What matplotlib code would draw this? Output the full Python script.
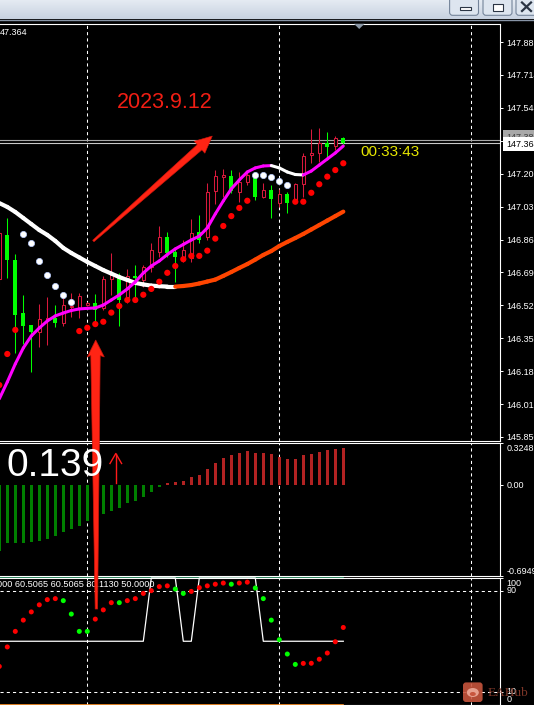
import numpy as np
import matplotlib
matplotlib.use('Agg')
import matplotlib.pyplot as plt
from matplotlib.patches import Polygon, Rectangle, FancyBboxPatch, Ellipse
from matplotlib.colors import LinearSegmentedColormap

plt.rcParams['font.family'] = ['Liberation Sans', 'DejaVu Sans']

W, H = 534, 705

# ---- H1 bars, left to right (bar 0 is cut by the left edge) ----
opens = [146.663, 146.890, 146.761, 146.488, 146.426, 146.390, 146.452, 146.462, 146.437, 146.519,
         146.514, 146.529, 146.540, 146.514, 146.663, 146.668, 146.570, 146.679, 146.658, 146.725,
         146.802, 146.879, 146.802, 146.771, 146.771, 146.905, 146.879, 147.116, 147.188, 147.193,
         147.111, 147.162, 147.198, 147.085, 147.121, 147.055, 147.101, 147.070, 147.152, 147.301,
         147.312, 147.363, 147.348, 147.389]
highs = [146.957, 146.977, 146.792, 146.581, 146.426, 146.534, 146.570, 146.529, 146.570, 146.591,
         146.591, 146.545, 146.586, 146.679, 146.797, 146.694, 146.715, 146.735, 146.735, 146.849,
         146.936, 146.905, 146.828, 146.864, 146.972, 146.993, 147.157, 147.224, 147.229, 147.224,
         147.214, 147.214, 147.214, 147.157, 147.147, 147.127, 147.111, 147.157, 147.312, 147.435,
         147.440, 147.420, 147.399, 147.394]
lows = [146.632, 146.668, 146.282, 146.329, 146.184, 146.313, 146.323, 146.416, 146.421, 146.468,
        146.462, 146.524, 146.442, 146.504, 146.581, 146.421, 146.540, 146.555, 146.622, 146.699,
        146.776, 146.776, 146.648, 146.751, 146.751, 146.849, 146.864, 147.049, 147.085, 147.106,
        147.060, 147.147, 147.070, 147.080, 146.977, 147.034, 147.003, 147.055, 147.085, 147.260,
        147.265, 147.286, 147.327, 147.358]
closes = [146.900, 146.761, 146.478, 146.421, 146.390, 146.457, 146.462, 146.437, 146.529, 146.524,
          146.576, 146.540, 146.504, 146.663, 146.684, 146.555, 146.679, 146.668, 146.725, 146.812,
          146.879, 146.797, 146.776, 146.812, 146.900, 146.864, 147.111, 147.193, 147.198, 147.116,
          147.162, 147.198, 147.085, 147.121, 147.075, 147.101, 147.055, 147.152, 147.296, 147.312,
          147.363, 147.343, 147.389, 147.364]

# parabolic sar
psar = [146.117, 146.277, 146.401, 146.895, 146.850, 146.757, 146.684, 146.627, 146.581, 146.545,
        146.395, 146.412, 146.431, 146.443, 146.490, 146.524, 146.555, 146.555, 146.582, 146.612,
        146.649, 146.695, 146.730, 146.765, 146.782, 146.782, 146.809, 146.871, 146.936, 146.987,
        147.029, 147.066, 147.201, 147.201, 147.190, 147.168, 147.147, 147.061, 147.061, 147.107,
        147.151, 147.190, 147.224, 147.259]

# slow ma (white falling / orange rising) and fast ma (magenta rising / white falling)
slow_ma = [147.054, 147.034, 147.008, 146.977, 146.946, 146.915, 146.890, 146.859, 146.823, 146.797,
           146.774, 146.751, 146.730, 146.709, 146.691, 146.673, 146.658, 146.643, 146.635, 146.629,
           146.626, 146.624, 146.624, 146.627, 146.632, 146.640, 146.650, 146.660, 146.679, 146.699,
           146.720, 146.740, 146.763, 146.787, 146.807, 146.833, 146.854, 146.874, 146.895, 146.918,
           146.941, 146.964, 146.987, 147.010]
fast_ma = [146.046, 146.133, 146.226, 146.308, 146.370, 146.411, 146.447, 146.473, 146.488, 146.501,
           146.509, 146.512, 146.514, 146.529, 146.555, 146.581, 146.612, 146.648, 146.694, 146.730,
           146.756, 146.789, 146.818, 146.841, 146.864, 146.884, 146.926, 146.998, 147.065, 147.127,
           147.173, 147.214, 147.235, 147.245, 147.247, 147.235, 147.214, 147.201, 147.199, 147.219,
           147.250, 147.281, 147.312, 147.348]

# macd histogram
macd = [-0.500, -0.440, -0.440, -0.440, -0.434, -0.426, -0.408, -0.389, -0.360, -0.337,
        -0.308, -0.276, -0.245, -0.218, -0.197, -0.171, -0.139, -0.118, -0.092, -0.053,
        -0.011, 0.018, 0.024, 0.034, 0.066, 0.082, 0.126, 0.174, 0.213, 0.231,
        0.245, 0.260, 0.250, 0.245, 0.239, 0.221, 0.205, 0.205, 0.229, 0.242,
        0.258, 0.268, 0.276, 0.284]

# bottom window: step line and dots
stoch_main = [50, 50, 50, 50, 50, 50, 50, 50, 50, 50, 50, 50, 50, 50, 50, 50, 50, 50, 50, 100,
              100, 100, 100, 50, 50, 100, 100, 100, 100, 100, 100, 100, 100, 50, 50, 50, 50, 50, 50, 50,
              50, 50, 50, 50]
stoch_sig = [30.1, 45.5, 57.8, 66.7, 73.2, 78.8, 82.9, 83.7, 82.1, 71.5,
             57.8, 57.8, 67.5, 74.8, 80.5, 80.5, 82.1, 83.7, 87.8, 90.0,
             93.2, 93.8, 91.3, 87.8, 89.4, 92.4, 93.8, 95.1, 96.0, 95.1,
             96.0, 96.7, 92.1, 83.7, 66.7, 51.2, 39.9, 31.7, 32.5, 32.6,
             35.8, 40.7, 49.6, 60.9]
stoch_top, stoch_bottom = 100, 0
stoch_levels = [90, 10]
stoch_header = '000 60.5065 60.5065 80.1130 50.0000'

price_ticks = [147.883, 147.714, 147.544, 147.375, 147.205, 147.036, 146.866,
               146.697, 146.528, 146.358, 146.189, 146.019, 145.850]
price_lim = (145.829, 147.977)
bid, ask = 147.364, 147.380
macd_lim = (-0.6949, 0.3248)
macd_ticks = [0.3248, 0.0, -0.6949]
macd_labels = ['0.3248', '0.00', '-0.6949']
stoch_ticks = [100, 90, 10, 0]
stoch_labels = ['100', '90', '10', '0']
grid_bars = [11, 35, 59]
time_ticks = [8, 16, 24, 32, 40, 48, 56]

BULL = '#d8193c'
BEAR = '#00ff00'

fig = plt.figure(figsize=(W / 100, H / 100), dpi=100, facecolor='black')


def panel(top, bottom):
    ax = fig.add_axes([0, 1 - bottom / H, 500.3 / W, (bottom - top) / H])
    ax.set_facecolor('black')
    for s in ('top', 'bottom', 'right'):
        ax.spines[s].set_color('white')
        ax.spines[s].set_linewidth(0.8)
    ax.spines['left'].set_visible(False)
    ax.set_xlim(0.0875, 62.625)
    ax.yaxis.tick_right()
    ax.tick_params(axis='y', colors='white', length=2.2, width=0.7, pad=2.2, labelsize=6.5)
    ax.tick_params(axis='x', bottom=False, labelbottom=False)
    for g in grid_bars:
        ax.axvline(g, color='white', lw=0.75, ls=(0, (3, 3)), zorder=1)
    return ax


def side_labels(ax, ticks, labels, aligns):
    ax.set_yticks(ticks, [''] * len(ticks))
    for v, lab, (va, dy) in zip(ticks, labels, aligns):
        ax.annotate(lab, xy=(1, v), xycoords=('axes fraction', 'data'), xytext=(4.4, dy),
                    textcoords='offset points', va=va, ha='left', color='white',
                    fontsize=6.5, annotation_clip=False)


def two_tone(ax, y, up_col, dn_col, lw, z):
    for k in range(len(y) - 1):
        col = up_col if y[k + 1] > y[k] else dn_col
        ax.plot([k, k + 1], [y[k], y[k + 1]], color=col, lw=lw,
                solid_capstyle='round', zorder=z)


# ---------------- main price window ----------------
ax = panel(23.8, 441)
ax.set_ylim(*price_lim)
ax.set_yticks(price_ticks, ['%.3f' % t for t in price_ticks])

ax.axhline(ask, color='#a8a8a8', lw=0.8, zorder=1)
ax.axhline(bid, color='#c8c8c8', lw=0.8, zorder=1)

x = np.arange(len(opens))
o, hi, lo, c = map(np.array, (opens, highs, lows, closes))
up = c >= o
ax.vlines(x[up], lo[up], hi[up], color=BULL, lw=0.75, zorder=2)
ax.vlines(x[~up], lo[~up], hi[~up], color=BEAR, lw=0.75, zorder=2)
body_lo = np.minimum(o, c)
body_h = np.maximum(np.abs(c - o), 0.003)
ax.bar(x[up], body_h[up], 0.44, bottom=body_lo[up], facecolor='black',
       edgecolor=BULL, lw=0.75, zorder=3)
ax.bar(x[~up], body_h[~up], 0.54, bottom=body_lo[~up], color=BEAR, lw=0, zorder=3)

two_tone(ax, slow_ma, '#ff4500', 'white', 3.0, 4)
two_tone(ax, fast_ma, '#ff00ff', 'white', 2.2, 5)

ps = np.array(psar)
above = ps > c
ax.scatter(x[above], ps[above], s=20, c='white', edgecolors='#b8ccff', linewidths=0.5, zorder=6)
ax.scatter(x[~above], ps[~above], s=20, c='#ff0000', edgecolors='none', zorder=6)

ax.annotate('%.3f' % ask, xy=(1, ask), xycoords=('axes fraction', 'data'), xytext=(4.2, 1.5),
            textcoords='offset points', va='center', ha='left', fontsize=6.5, color='#404040',
            bbox=dict(boxstyle='square,pad=0.3', fc='#a8a8a8', ec='none'), annotation_clip=False)
ax.annotate('%.3f' % bid, xy=(1, bid), xycoords=('axes fraction', 'data'), xytext=(4.2, -1),
            textcoords='offset points', va='center', ha='left', fontsize=6.5, color='black',
            bbox=dict(boxstyle='square,pad=0.3', fc='white', ec='none'), annotation_clip=False)

# ---------------- macd window ----------------
ax2 = panel(443, 576)
ax2.set_ylim(*macd_lim)
mv = np.array(macd)
ax2.bar(x, mv, 0.42, color=np.where(mv > 0, '#b22222', '#008000'), lw=0, zorder=2)
side_labels(ax2, macd_ticks, macd_labels, [('top', -1), ('center', 0), ('bottom', 0)])

# ---------------- bottom oscillator window ----------------
ax3 = panel(578, 704.5)
ax3.set_ylim(0, 100)
for lv in stoch_levels:
    ax3.axhline(lv, color='white', lw=0.75, ls=(0, (3, 3)), zorder=1)
ax3.plot(x, [stoch_top] * len(x), color='#2e9a6a', lw=1.2, zorder=2, clip_on=False)
ax3.plot(x, [stoch_bottom] * len(x), color='#ff8c1a', lw=1.2, zorder=2, clip_on=False)
ax3.plot(x, stoch_main, color='white', lw=0.9, zorder=3, clip_on=False)
sv = np.array(stoch_sig)
rising = np.r_[True, sv[1:] > sv[:-1]]
ax3.scatter(x, sv, s=13, c=np.where(rising, '#ff0000', '#00ff00'), edgecolors='none', zorder=4)
side_labels(ax3, stoch_ticks, stoch_labels,
            [('top', -0.5), ('center', 0), ('center', 0), ('bottom', 0)])
ax3.set_xticks(time_ticks, [''] * len(time_ticks))
ax3.tick_params(axis='x', bottom=True, direction='out', length=2.2, color='white', width=0.7)
ax3.text(-0.25, 98.5, stoch_header, color='white', fontsize=6.6, va='top', ha='left', zorder=5)

# ---------------- overlay: window frame, drawings, texts ----------------
ov = fig.add_axes([0, 0, 1, 1], zorder=10)
ov.axis('off')
tb = LinearSegmentedColormap.from_list('tb', ['#e6ecf4', '#c8d2e0'])
ov.imshow(np.linspace(0, 1, 20).reshape(-1, 1), extent=(0, W, 19.5, 0), cmap=tb,
          aspect='auto', zorder=0)
ov.set_xlim(0, W)
ov.set_ylim(H, 0)
ov.plot([0, W], [19.8, 19.8], color='#8794a6', lw=1)

for bx, bw in [(449.6, 28.9), (483.0, 29.0), (516.0, 30.0)]:
    ov.add_patch(FancyBboxPatch((bx, -4), bw, 19.3, boxstyle='round,pad=0,rounding_size=3',
                                fc='#dde5ef', ec='#74849a', lw=0.8))
ov.add_patch(Rectangle((459.5, 7), 11, 3.4, fc='white', ec='#2b3544', lw=0.8))
ov.add_patch(Rectangle((493, 3.5), 9.5, 7, fc='white', ec='#2b3544', lw=0.8))
ov.add_patch(Rectangle((493, 3.5), 9.5, 1.8, fc='#2b3544', ec='none'))
ov.plot([522, 531], [2.5, 11], color='#2b3544', lw=1.6)
ov.plot([522, 531], [11, 2.5], color='#2b3544', lw=1.6)
ov.add_patch(Polygon([(354, 23.8), (364.5, 23.8), (359.2, 29)], closed=True,
                     fc='#8a97a6', ec='none'))

ov.text(0.3, 32.5, '47.364', color='white', fontsize=6.5, va='center', ha='left')
ov.text(116.5, 103, '2023.9.12', color='#f01e14', fontsize=15.5, va='center', ha='left')
ov.text(360, 152, '00:33:43', color='#e6e600', fontsize=11, va='center', ha='left')
ov.text(7, 465.5, '0.139', color='white', fontsize=28, va='center', ha='left')
ov.plot([115.8, 115.8], [483, 453.5], color='#ff1a1a', lw=1)
ov.plot([110, 115.8, 121.6], [463.5, 453.5, 463.5], color='#ff1a1a', lw=1)

ov.add_patch(Polygon([(93.96, 241.75), (201.87, 149.88), (204.85, 153.25), (212.3, 136),
                      (194.25, 141.25), (197.23, 144.62), (92.64, 240.25)], closed=True,
                     fc='#ff2414', ec='#d0160c', lw=0.4))
ov.add_patch(Polygon([(95.7, 340), (104.3, 357), (100.2, 355.5), (97.6, 609), (95.2, 609),
                      (90.8, 355.5), (87.3, 357)], closed=True,
                     fc='#ff2414', ec='#c8140a', lw=0.5))

# watermark
ov.add_patch(FancyBboxPatch((463, 682.4), 19.6, 19.6, boxstyle='round,pad=0,rounding_size=3',
                            fc='#c8553d', ec='none', alpha=0.9))
ov.add_patch(Ellipse((472.8, 692.5), 12, 9, fc='#e7a08e', ec='none'))
ov.add_patch(Ellipse((472.8, 694), 6, 4, fc='#c8553d', ec='none'))
ov.text(487.5, 693, 'EAHub', family='Liberation Serif', fontsize=9.5, color='#8a3c2c',
        va='center', ha='left', alpha=0.9)

fig.savefig('out.png', dpi=100, facecolor='black')
